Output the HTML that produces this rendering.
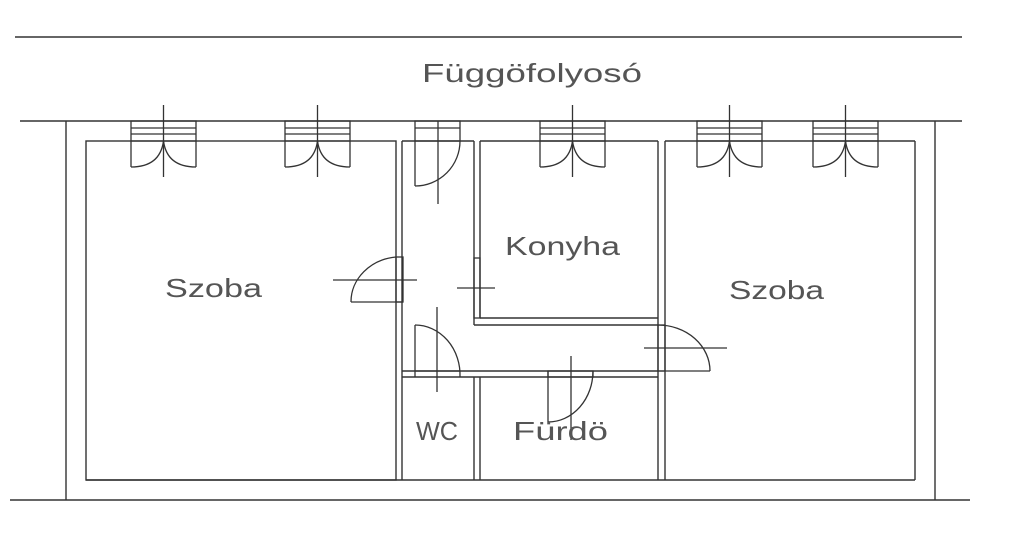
<!DOCTYPE html>
<html><head><style>body{margin:0;background:#fff}svg{display:block}</style></head><body>
<svg width="1024" height="554" viewBox="0 0 1024 554" xmlns="http://www.w3.org/2000/svg">
<g stroke="#333" stroke-width="1.4" fill="none">
<line x1="15" y1="37" x2="962" y2="37"/>
<line x1="20" y1="121" x2="962" y2="121"/>
<line x1="10" y1="500" x2="970" y2="500"/>
<line x1="66" y1="121" x2="66" y2="500"/>
<line x1="935" y1="121" x2="935" y2="500"/>
<rect x="86" y="141" width="310" height="339"/>
<line x1="402" y1="141" x2="474" y2="141"/>
<line x1="480" y1="141" x2="658" y2="141"/>
<line x1="665" y1="141" x2="915" y2="141"/>
<line x1="915" y1="141" x2="915" y2="480"/>
<line x1="86" y1="480" x2="915" y2="480"/>
<line x1="402" y1="141" x2="402" y2="480"/>
<line x1="474" y1="141" x2="474" y2="325"/>
<line x1="480" y1="141" x2="480" y2="318"/>
<line x1="480" y1="318" x2="658" y2="318"/>
<line x1="474" y1="325" x2="658" y2="325"/>
<line x1="658" y1="141" x2="658" y2="480"/>
<line x1="665" y1="141" x2="665" y2="480"/>
<line x1="402" y1="371" x2="658" y2="371"/>
<line x1="402" y1="377" x2="658" y2="377"/>
<line x1="474" y1="377" x2="474" y2="480"/>
<line x1="480" y1="377" x2="480" y2="480"/>
</g>
<g stroke="#333" stroke-width="1.3" fill="none">
<g id="w">
<rect x="131" y="121" width="65" height="20"/>
<line x1="131" y1="128" x2="196" y2="128"/><line x1="131" y1="134" x2="196" y2="134"/>
<line x1="163.5" y1="105" x2="163.5" y2="177"/>
<line x1="131" y1="141" x2="131" y2="167"/><line x1="196" y1="141" x2="196" y2="167"/>
<path d="M131 167 Q160 167 163.5 141 Q167 167 196 167"/>
</g>
<use href="#w" x="154"/>
<use href="#w" x="409"/>
<use href="#w" x="566"/>
<use href="#w" x="682"/>
<rect x="415" y="121" width="45" height="20"/>
<line x1="415" y1="128" x2="460" y2="128"/>
<line x1="415" y1="141" x2="415" y2="186"/>
<path d="M415 186 A45 45 0 0 0 460 141"/>
<line x1="438" y1="121" x2="438" y2="204"/>
<rect x="396" y="257" width="7" height="45"/>
<line x1="351" y1="302" x2="403" y2="302"/>
<path d="M351 302 A50 45 0 0 1 396 257"/>
<line x1="333" y1="280" x2="417" y2="280"/>
<rect x="474" y="258" width="6" height="60"/>
<line x1="457" y1="288" x2="495" y2="288"/>
<line x1="415" y1="325" x2="415" y2="377"/>
<path d="M415 325 A45 50 0 0 1 460 377"/>
<line x1="415" y1="371" x2="460" y2="371"/>
<line x1="437" y1="307" x2="437" y2="392"/>
<rect x="548" y="371" width="45" height="6"/>
<line x1="548" y1="371" x2="548" y2="422"/>
<path d="M548 422 A45 51 0 0 0 593 371"/>
<line x1="571" y1="356" x2="571" y2="440"/>
<rect x="658" y="325" width="7" height="46"/>
<path d="M658 325 A52 46 0 0 1 710 371"/>
<line x1="658" y1="371" x2="710" y2="371"/>
<line x1="644" y1="348" x2="727" y2="348"/>
</g>
<g fill="#555" font-family="Liberation Sans, sans-serif" font-size="26">
<text x="422" y="82" textLength="220" lengthAdjust="spacingAndGlyphs">Függöfolyosó</text>
<text x="165" y="297" textLength="97" lengthAdjust="spacingAndGlyphs">Szoba</text>
<text x="505" y="255" textLength="115" lengthAdjust="spacingAndGlyphs">Konyha</text>
<text x="729" y="299" textLength="95" lengthAdjust="spacingAndGlyphs">Szoba</text>
<text x="416" y="440" textLength="42" lengthAdjust="spacingAndGlyphs">WC</text>
<text x="513" y="440" textLength="95" lengthAdjust="spacingAndGlyphs">Fürdö</text>
</g>
</svg>
</body></html>
